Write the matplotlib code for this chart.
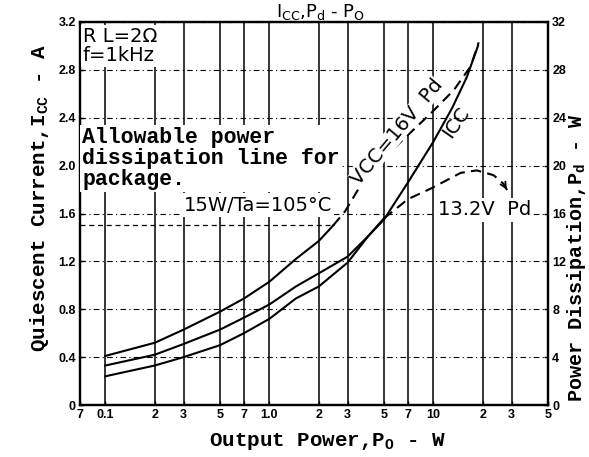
import matplotlib
matplotlib.use("Agg")
import matplotlib.pyplot as plt
from matplotlib.ticker import NullLocator, FixedLocator, FixedFormatter

plt.rcParams['mathtext.fontset'] = 'custom'
plt.rcParams['mathtext.rm'] = 'Liberation Mono:bold'
plt.rcParams['mathtext.sf'] = 'DejaVu Sans'

# quiescent current (A) vs output power (W)
icc_po = [0.1, 0.2, 0.3, 0.5, 0.7, 1.0, 1.45, 2.0, 3.0, 4.0, 5.0, 7.0, 10.0, 13.0, 16.0, 18.7]
icc_a = [0.33, 0.42, 0.51, 0.63, 0.73, 0.84, 0.99, 1.10, 1.24, 1.41, 1.55, 1.86, 2.20, 2.48, 2.74, 3.00]

# power dissipation (W), Vcc = 16 V: solid up to the package limit, dashed above
pd16_po = [0.1, 0.2, 0.3, 0.5, 0.7, 1.0, 1.45, 2.0, 2.45]
pd16_w = [4.1, 5.2, 6.3, 7.8, 8.9, 10.3, 12.2, 13.7, 15.0]
pd16_po_hi = [2.45, 2.9, 3.84, 5.6, 9.7, 13.3, 16.9, 18.9]
pd16_w_hi = [15.0, 16.2, 19.0, 21.3, 24.4, 26.3, 28.3, 30.3]

# power dissipation (W), Vcc = 13.2 V
pd13_po = [0.1, 0.2, 0.3, 0.5, 0.7, 1.0, 1.45, 2.0, 3.0, 4.0, 5.0]
pd13_w = [2.4, 3.3, 4.0, 5.0, 6.0, 7.2, 8.9, 9.9, 11.9, 14.1, 15.6]
pd13_po_hi = [5.0, 5.8, 7.0, 9.7, 14.7, 18.4, 23.3, 26.7, 28.6]
pd13_w_hi = [15.6, 16.3, 17.2, 18.1, 19.4, 19.6, 19.2, 18.5, 17.8]

# package limit 15 W at Ta = 105 C
allow_w = 15.0
allow_po_end = 2.45

x_ticks = [0.07, 0.1, 0.2, 0.3, 0.5, 0.7, 1, 2, 3, 5, 7, 10, 20, 30, 50]
x_labels = ['7', '0.1', '2', '3', '5', '7', '1.0', '2', '3', '5', '7', '10', '2', '3', '5']
icc_ticks = [0, 0.4, 0.8, 1.2, 1.6, 2.0, 2.4, 2.8, 3.2]
icc_labels = ['0', '0.4', '0.8', '1.2', '1.6', '2.0', '2.4', '2.8', '3.2']
pd_ticks = [0, 4, 8, 12, 16, 20, 24, 28, 32]

tick_font = dict(family='Liberation Sans', weight='bold', size=9)
label_font = dict(family='Liberation Mono', weight='bold', size=15)
note_font = dict(family='DejaVu Sans', size=14)

fig = plt.figure(figsize=(5.89, 4.57), dpi=100)
ax = fig.add_axes([80 / 589, 1 - 405 / 457, 468 / 589, 383 / 457])
ax.set_xscale('log')
ax.set_xlim(0.07, 50)
ax.set_ylim(0, 3.2)
ax.xaxis.set_major_locator(FixedLocator(x_ticks))
ax.xaxis.set_major_formatter(FixedFormatter(x_labels))
ax.xaxis.set_minor_locator(NullLocator())
ax.set_yticks(icc_ticks)
ax.set_yticklabels(icc_labels)
for t in ax.get_xticklabels() + ax.get_yticklabels():
    t.set(**tick_font)
ax.tick_params(axis='both', direction='in', length=3, width=1, pad=3)

ax.grid(axis='x', color='k', lw=1.1, ls='-')
ax.grid(axis='y', color='k', lw=0.8, ls=(0, (5, 3, 1, 3)))
for s in ax.spines.values():
    s.set_linewidth(1.6)

ax.plot(icc_po, icc_a, color='k', lw=1.5)

ax2 = ax.twinx()
ax2.set_ylim(0, 32)
ax2.set_yticks(pd_ticks)
for t in ax2.get_yticklabels():
    t.set(**tick_font)
ax2.tick_params(axis='y', direction='in', length=3, width=1, pad=3)
for s in ax2.spines.values():
    s.set_linewidth(1.6)

ax2.plot(pd16_po, pd16_w, color='k', lw=1.5)
ax2.plot(pd16_po_hi, pd16_w_hi, color='k', lw=1.5, ls=(0, (5, 3)))
ax2.plot(pd13_po, pd13_w, color='k', lw=1.5)
ax2.plot(pd13_po_hi, pd13_w_hi, color='k', lw=1.5, ls=(0, (5, 3)))
ax2.annotate('', xy=(pd13_po_hi[-1], pd13_w_hi[-1]), xytext=(pd13_po_hi[-2], pd13_w_hi[-2]),
             arrowprops=dict(arrowstyle='->', color='k', lw=1.3))
ax2.hlines(allow_w, 0.07, allow_po_end, color='k', lw=0.9, ls=(0, (4, 3)))

white = dict(facecolor='white', edgecolor='none', pad=1.5)
ax2.text(0.073, 31.6, 'R L=2Ω\nf=1kHz', va='top', ha='left', linespacing=1.0,
         bbox=white, zorder=5, **note_font)
ax2.text(0.072, 23.2, 'Allowable power\ndissipation line for\npackage.', va='top', ha='left',
         linespacing=1.0, bbox=white, zorder=5, family='Liberation Mono', weight='bold', size=15.5)
ax2.text(0.85, 16.7, '15W/Ta=105°C', ha='center', va='center', bbox=white, zorder=5, **note_font)
ax2.text(20.5, 16.3, '13.2V  Pd', ha='center', va='center', bbox=white, zorder=5, **note_font)
ax2.text(6.0, 22.8, 'VCC=16V  Pd', ha='center', va='center', rotation=50,
         bbox=dict(facecolor='white', edgecolor='none', pad=0), zorder=5, **note_font)
ax2.text(13.8, 23.6, 'ICC', ha='center', va='center', rotation=55, zorder=5, **note_font)

fig.text(321 / 589, 1 - 17 / 457, r'I$_{\mathsf{CC}}$,P$_{\mathsf{d}}$ - P$_{\mathsf{O}}$',
         ha='center', va='baseline', family='DejaVu Sans', size=13)
fig.text(40 / 589, 1 - 198 / 457, r'Quiescent Current,I$_{\rm CC}$ - A',
         rotation=90, ha='center', va='center', **label_font)
fig.text(577 / 589, 1 - 258 / 457, r'Power Dissipation,P$_{\rm d}$ - W',
         rotation=90, ha='center', va='center', family='Liberation Mono', weight='bold', size=14.5)
fig.text(328 / 589, 1 - 441 / 457, r'Output Power,P$_{\rm O}$ - W',
         ha='center', va='center', **label_font)

fig.savefig('out.png', dpi=100, facecolor='white')
